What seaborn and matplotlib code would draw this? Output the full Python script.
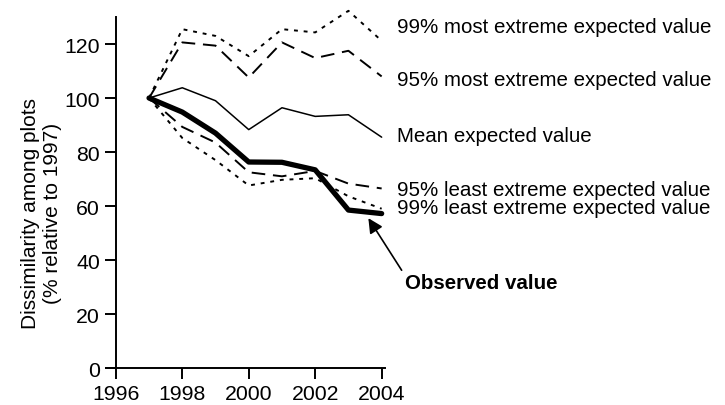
import pandas as pd
import matplotlib.pyplot as plt
import seaborn as sns

# years and series values (% relative to 1997)
years = [1997, 1998, 1999, 2000, 2001, 2002, 2003, 2004]
most99 = [100, 125.5, 123, 115.5, 125.5, 124.3, 132.3, 121.2]
most95 = [100, 120.6, 119.4, 107.6, 120.6, 114.8, 117.5, 108]
mean_exp = [100, 103.8, 99, 88.3, 96.4, 93.2, 93.8, 85.5]
least95 = [100, 89.3, 83.5, 72.5, 71, 73, 68.3, 66.5]
least99 = [100, 85.2, 77, 67.6, 69.7, 70.3, 63.6, 59]
observed = [100, 94.8, 87, 76.3, 76.2, 73.4, 58.5, 57.2]

labels = ["99% most extreme expected value", "95% most extreme expected value",
          "Mean expected value", "95% least extreme expected value",
          "99% least extreme expected value"]
label_y = [126.6, 107, 86, 66.3, 59.3]

sns.set_style("ticks")
plt.rcParams['font.family'] = ['Liberation Sans', 'DejaVu Sans']
plt.rcParams['text.color'] = 'black'
plt.rcParams['axes.labelcolor'] = 'black'
plt.rcParams['xtick.color'] = 'black'
plt.rcParams['ytick.color'] = 'black'

fig = plt.figure(figsize=(7.25, 4.06), dpi=100)
ax = fig.add_axes([0.146, 0.0911, 0.385, 0.8645])

styles = [
    (most99, (0, (2, 3)), 1.4),
    (most95, (0, (7, 4)), 1.4),
    (mean_exp, "-", 1.1),
    (least95, (0, (7, 4)), 1.4),
    (least99, (0, (2, 3)), 1.4),
    (observed, "-", 3.8),
]
for vals, ls, lw in styles:
    sns.lineplot(x=years, y=vals, ax=ax, color="black", linestyle=ls,
                 linewidth=lw, clip_on=False)

for txt, yv in zip(labels, label_y):
    ax.text(2004.46, yv, txt, fontsize=14.8, va="center", ha="left", clip_on=False)

ax.annotate("Observed value", xy=(2003.6, 55.5), xytext=(2004.7, 31.5),
            fontsize=14.8, fontweight="bold", va="center", ha="left",
            arrowprops=dict(arrowstyle="-|>", color="black", lw=1.2,
                            mutation_scale=22, shrinkA=0, shrinkB=0,
                            relpos=(0, 0.9)))

ax.set_xlim(1995.7, 2004.1)
ax.set_ylim(0, 130)
ax.spines['left'].set_position(('data', 1996))
ax.spines['right'].set_visible(False)
ax.spines['top'].set_visible(False)
ax.set_xticks([1996, 1998, 2000, 2002, 2004])
ax.set_yticks([0, 20, 40, 60, 80, 100, 120])
ax.tick_params(labelsize=15.3, length=8, width=1.4, color="black")
for s in ['left', 'bottom']:
    ax.spines[s].set_linewidth(1.4)
    ax.spines[s].set_color("black")
ax.set_ylabel("Dissimilarity among plots\n(% relative to 1997)", fontsize=15)
ax.yaxis.set_label_coords(-0.158, 0.444)

fig.savefig("out.png", dpi=100)
